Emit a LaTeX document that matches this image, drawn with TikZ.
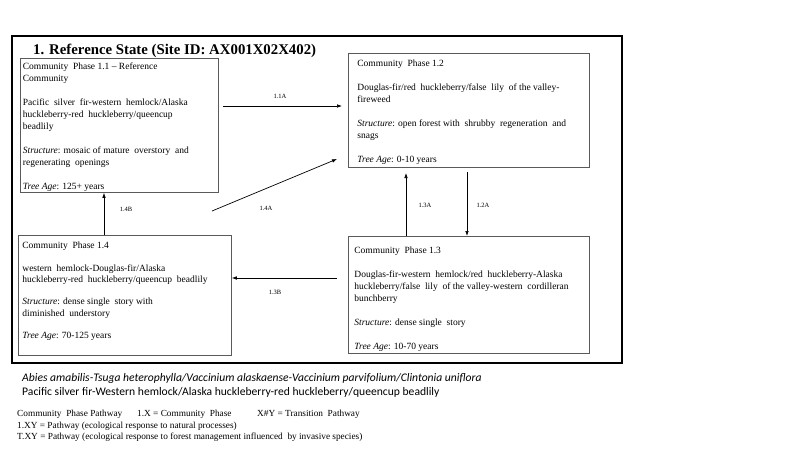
\documentclass[tikz,border=0pt]{standalone}
\usepackage{fontspec}
\setmainfont{Liberation Serif}
\newfontfamily\calib{Carlito}
\usetikzlibrary{arrows.meta}
\definecolor{boxgray}{HTML}{5A5A5A}
\newcommand\phasetext[4]{\parbox[c][#2][t]{#1}{\vspace*{#3}#4}}
\begin{document}
\begin{tikzpicture}[x=1pt,y=-1pt,
  phase/.style={draw=boxgray, line width=0.8pt, inner ysep=0pt, anchor=north west},
  arr/.style={-{Latex[length=5pt,width=3.6pt]}, line width=0.7pt},
  plabel/.style={font=\fontsize{6.5}{8}\selectfont, inner sep=0pt},
  plain/.style={anchor=base west, inner sep=0pt}
]
\useasboundingbox (0,0) rectangle (800,450);
\fill[white] (0,0) rectangle (800,450);

\node[draw, line width=2pt, inner sep=0pt, anchor=north west, minimum width=610pt, minimum height=327pt] (frame) at (11,35) {};

\node[plain, font=\bfseries\fontsize{14.8}{16}\selectfont] (title) at (33,54) {1. Reference State (Site ID: AX001X02X402)};

% Phase boxes
\node[phase, inner xsep=2.5pt, font=\fontsize{9.5}{12}\selectfont] (B11) at (20,58)
 {\phasetext{193pt}{134pt}{4.5pt}{Community\ \ Phase 1.1 -- Reference\\
 Community\\[12pt]
 Pacific\ \ silver\ \ fir-western\ \ hemlock/Alaska\\
 huckleberry-red\ \ huckleberry/queencup\\
 beadlily\\[12pt]
 \textit{Structure}: mosaic of mature\ \ overstory\ \ and\\
 regenerating\ \ openings\\[12pt]
 \textit{Tree Age}: 125+ years}};

\node[phase, inner xsep=9pt, font=\fontsize{9.5}{12}\selectfont] (B12) at (348,53)
 {\phasetext{223pt}{114pt}{6.5pt}{Community\ \ Phase 1.2\\[12pt]
 Douglas-fir/red\ \ huckleberry/false\ \ lily\ \ of the valley-\\
 fireweed\\[12pt]
 \textit{Structure}: open forest with\ \ shrubby\ \ regeneration\ \ and\\
 snags\\[12pt]
 \textit{Tree Age}: 0-10 years}};

\node[phase, inner xsep=6pt, font=\fontsize{9.5}{12}\selectfont] (B13) at (348,236)
 {\phasetext{229pt}{117pt}{10.5pt}{Community\ \ Phase 1.3\\[12pt]
 Douglas-fir-western\ \ hemlock/red\ \ huckleberry-Alaska\\
 huckleberry/false\ \ lily\ \ of the valley-western\ \ cordilleran\\
 bunchberry\\[12pt]
 \textit{Structure}: dense single\ \ story\\[12pt]
 \textit{Tree Age}: 10-70 years}};

\node[phase, inner xsep=4pt, font=\fontsize{9.5}{11.3}\selectfont] (B14) at (18,235)
 {\phasetext{205pt}{120pt}{6.5pt}{Community\ \ Phase 1.4\\[11.3pt]
 western\ \ hemlock-Douglas-fir/Alaska\\
 huckleberry-red\ \ huckleberry/queencup\ \ beadlily\\[11.3pt]
 \textit{Structure}: dense single\ \ story with\\
 diminished\ \ understory\\[11.3pt]
 \textit{Tree Age}: 70-125 years}};

% Connector coordinates
\coordinate (a11s) at (223,106);
\coordinate (a11e) at (342,106);
\coordinate (a14as) at (212,211);
\coordinate (a14ae) at (337,159);
\coordinate (x14b) at (104,0);
\coordinate (a13bs) at (337,278);
\coordinate (a13ae) at (406,173);
\coordinate (a12as) at (467,172);

% Connectors
\draw[arr] (a11s) -- (a11e);
\draw[arr] (a14as) -- (a14ae);
\draw[arr] (B14.north -| x14b) -- (B11.south -| x14b);
\draw[arr] (a13bs) -- (B14.east |- a13bs);
\draw[arr] (B13.north -| a13ae) -- (a13ae);
\draw[arr] (a12as) -- (a12as |- B13.north);

% Connector labels
\node[plabel] (l11a) at (280,96) {1.1A};
\node[plabel] (l14a) at (266,208) {1.4A};
\node[plabel] (l14b) at (126,209) {1.4B};
\node[plabel] (l13b) at (275,292) {1.3B};
\node[plabel] (l13a) at (425,205) {1.3A};
\node[plabel] (l12a) at (483,205) {1.2A};

% Names below the frame
\node[plain, font=\calib\itshape\fontsize{11.6}{14}\selectfont] (latin) at (22,381)
 {Abies amabilis-Tsuga heterophylla/Vaccinium alaskaense-Vaccinium parvifolium/Clintonia uniflora};
\node[plain, font=\calib\fontsize{11.6}{14}\selectfont] (common) at (22,395)
 {Pacific silver fir-Western hemlock/Alaska huckleberry-red huckleberry/queencup beadlily};

% Legend
\node[plain, font=\fontsize{9.3}{11}\selectfont] (lg1) at (17,416) {Community\ \ Phase Pathway};
\node[plain, font=\fontsize{9.3}{11}\selectfont] (lg2) at (137,416) {1.X = Community\ \ Phase};
\node[plain, font=\fontsize{9.3}{11}\selectfont] (lg3) at (257,416) {X\#Y = Transition\ \ Pathway};
\node[plain, font=\fontsize{9.3}{11}\selectfont] (lg4) at (17,428) {1.XY = Pathway (ecological response to natural processes)};
\node[plain, font=\fontsize{9.3}{11}\selectfont] (lg5) at (17,439) {T.XY = Pathway (ecological response to forest management influenced\ \ by invasive species)};
\end{tikzpicture}
\end{document}
